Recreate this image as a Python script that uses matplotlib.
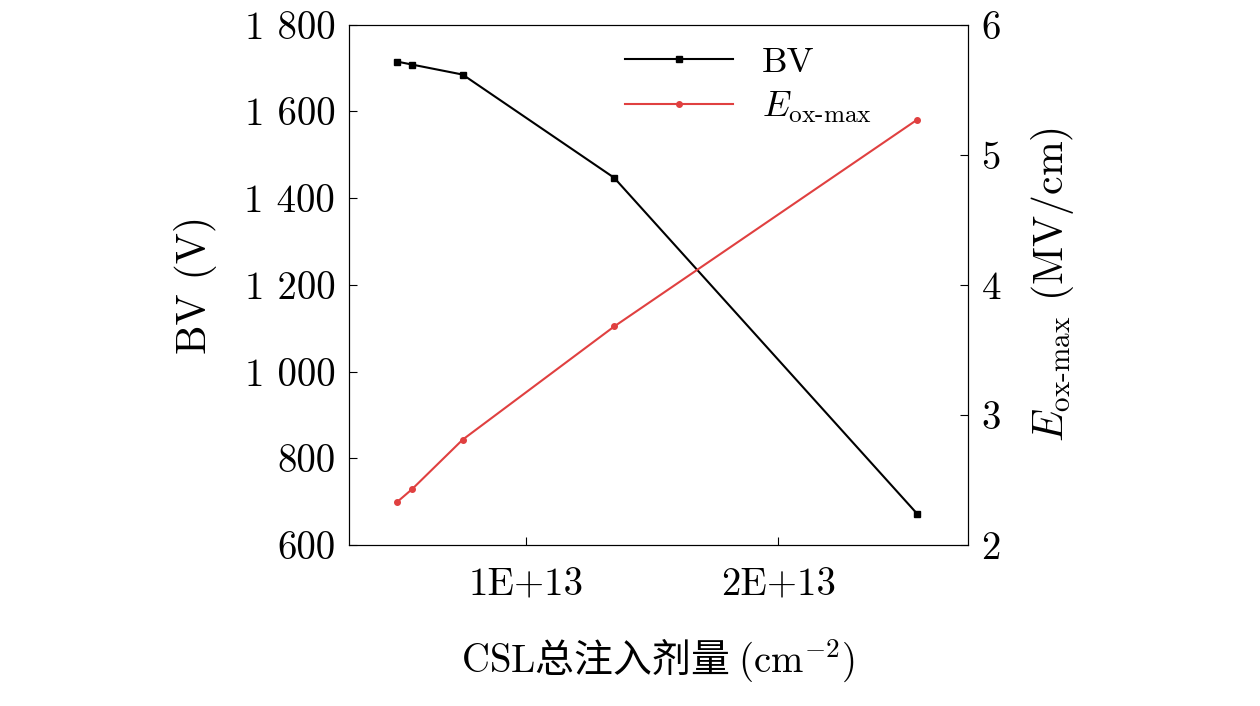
import matplotlib
matplotlib.use('Agg')
import matplotlib.pyplot as plt

plt.rcParams['mathtext.fontset'] = 'cm'
plt.rcParams['font.family'] = ['cmr10', 'DejaVu Sans']
plt.rcParams['axes.unicode_minus'] = False

dose = [0.49e13, 0.55e13, 0.75e13, 1.35e13, 2.55e13]
bv = [1715, 1708, 1685, 1447, 672]
eox = [2.33, 2.43, 2.81, 3.68, 5.27]

bv_ticks = [600, 800, 1000, 1200, 1400, 1600, 1800]
bv_labels = ['600', '800', '1 000', '1 200', '1 400', '1 600', '1 800']

fig = plt.figure(figsize=(12.6, 7.06), dpi=100)
ax1 = fig.add_axes([0.277, 0.228, 0.491, 0.737])
ax1.plot(dose, bv, color='black', marker='s', markersize=4, linewidth=1.5, label='BV')
ax1.set_xlim(0.3e13, 2.75e13)
ax1.set_ylim(600, 1800)
ax1.set_yticks(bv_ticks)
ax1.set_yticklabels(bv_labels)
ax1.set_xticks([1e13, 2e13])
ax1.set_xticklabels(['1E+13', '2E+13'])
ax1.tick_params(direction='in', labelsize=28, length=6, pad=10)
ax1.tick_params(axis='x', pad=16)
ax1.set_ylabel('BV (V)', fontsize=30, labelpad=20)
ax1.set_xlabel(r'$\mathrm{CSL}$总注入剂量 $(\mathrm{cm}^{-2})$', fontsize=28, labelpad=24,
               family=['Noto Sans CJK SC'])

ax2 = ax1.twinx()
ax2.plot(dose, eox, color='#e04040', marker='o', markersize=4, linewidth=1.5,
         label=r'$E_{\mathrm{ox\text{-}max}}$')
ax2.set_ylim(2, 6)
ax2.set_yticks([2, 3, 4, 5, 6])
ax2.tick_params(direction='in', labelsize=28, length=6, pad=10)
ax2.set_ylabel(r'$E_{\mathrm{ox\text{-}max}}$ (MV/cm)', fontsize=30, labelpad=20)

l1, lab1 = ax1.get_legend_handles_labels()
l2, lab2 = ax2.get_legend_handles_labels()
ax1.legend(l1 + l2, lab1 + lab2, loc='upper right', bbox_to_anchor=(0.88, 1.0),
           frameon=False, fontsize=26, handlelength=3, borderaxespad=0.2, labelspacing=0.3)

plt.savefig('out.png')
